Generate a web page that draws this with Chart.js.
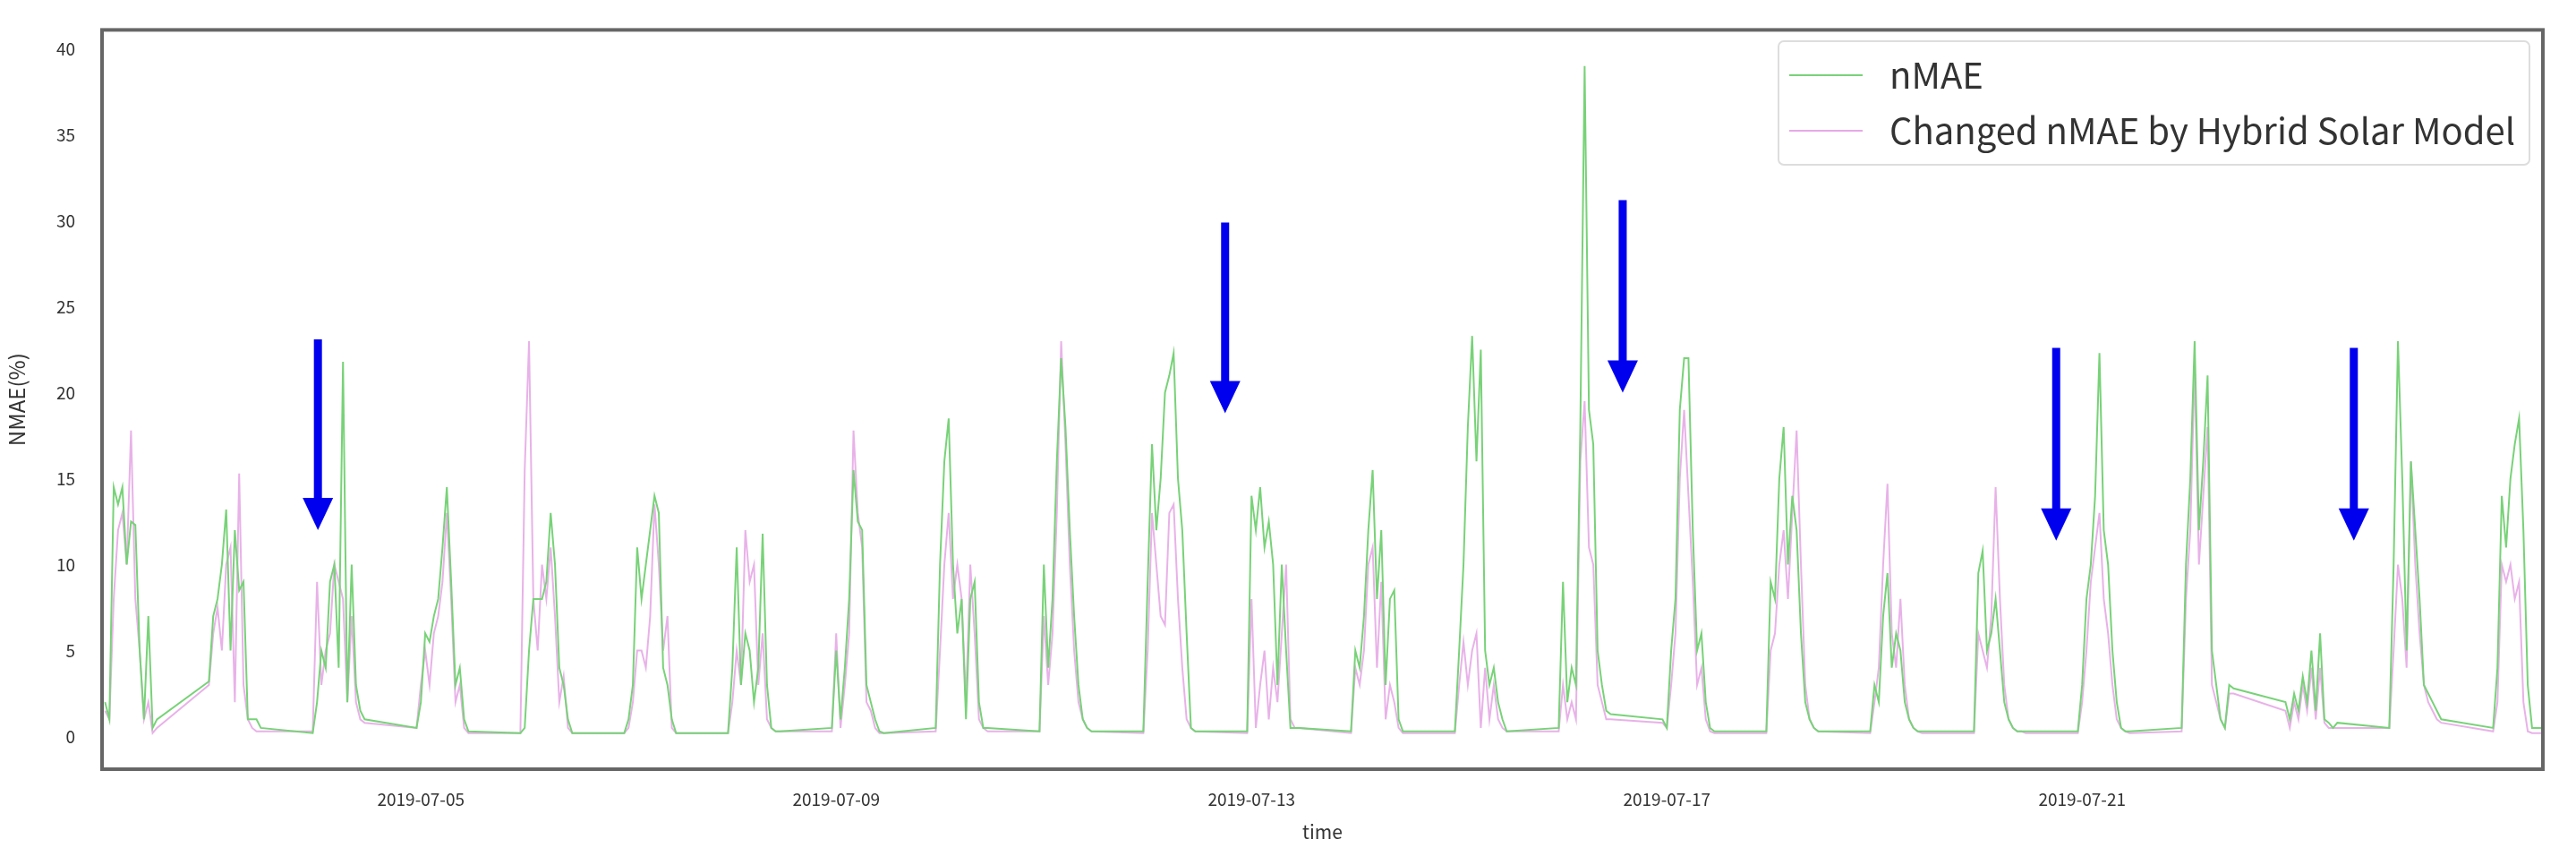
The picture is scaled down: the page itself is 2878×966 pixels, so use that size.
<!DOCTYPE html>
<html><head><meta charset="utf-8">
<script src="https://cdn.jsdelivr.net/npm/chart.js@4.4.1/dist/chart.umd.min.js"></script>
<style>html,body{margin:0;padding:0;background:#fff}#wrap{width:2878px;height:966px}</style>
</head><body><div id="wrap"><canvas id="c"></canvas></div>
<script>
// Dates of each daily block (day of July 2019) and hour offsets within a block
const blockDays = [2,3,4,5,6,7,8,9,10,11,12,13,14,15,16,17,18,19,20,21,22,23,24,25];
const blockHours = [-1,0,1,2,3,4,5,6,7,8,9,10,11];
const nmae = [
 [2,1,14.5,13.5,14.5,10,12.5,12.3,5,1,7,0.5,1],
 [3.2,7,8,10,13.2,5,12,8.5,9,1,1,1,0.5],
 [0.2,2,5,4,9,10,4,21.8,2,10,3,1.5,1],
 [0.5,2,6,5.5,7,8,11,14.5,9,3,4,1,0.3],
 [0.2,0.5,5,8,8,8,9,13,10,4,3,1,0.2],
 [0.2,1,3,11,8,10,12,14,13,4,3,1,0.2],
 [0.2,4,11,3,6,5,2,4,11.8,3,0.5,0.3,0.3],
 [0.5,5,1,4,8,15.5,12.5,12,3,2,1,0.3,0.2],
 [0.5,10,16,18.5,10,6,8,1,8,9,2,0.5,0.5],
 [0.3,10,4,8,16,22,18,12,7,3,1,0.5,0.3],
 [0.3,9,17,12,15,20,21,22.3,15,12,6,0.5,0.3],
 [0.3,14,12,14.5,11,12.5,10,3,10,5,0.5,0.5,0.5],
 [0.3,5,4,7,12,15.5,8,12,3,8,8.5,1,0.3],
 [0.3,5,10,18,23.3,16,22.5,5,3,4,2,1,0.3],
 [0.5,9,2,4,3,18,39,19,17,5,3,1.5,1.3],
 [1,0.5,5,8,19,22,22,12,5,6,2,0.5,0.3],
 [0.3,9,8,15,18,10,14,12,6,2,1,0.5,0.3],
 [0.3,3,2,7,9.5,4,6,5,2,1,0.5,0.3,0.3],
 [0.3,9.5,10.8,5,6,8,5,2,1,0.5,0.3,0.3,0.3],
 [0.3,3,8,10,14,22.3,12,10,5,2,0.5,0.3,0.3],
 [0.5,10,15,23,12,16,21,5,3,1,0.5,3,2.8],
 [2,1,2.5,1.5,3.5,2,5,1.5,6,1,0.8,0.5,0.8],
 [0.5,10,23,15,5,16,12,8,3,2.5,2,1.5,1],
 [0.5,4,14,11,15,17,18.5,12,3,0.5,0.5,0.5,0.5]
];
const changedNmae = [
 [1.5,1,8,12,13,10,17.8,8,5,1,2,0.2,0.5],
 [3,6,7.5,5,10,11,2,15.3,3,1,0.5,0.3,0.3],
 [0.3,9,3,5,6,10,9,8,2,7,2,1,0.8],
 [0.5,3,5,3,6,7,9,13,8,2,3,0.5,0.2],
 [0.2,15.5,23,8,5,10,8,11,7,2,3.5,0.5,0.2],
 [0.2,0.5,2,5,5,4,7,13.5,10,5,7,0.5,0.2],
 [0.2,2,5,3,12,9,10,3,6,1,0.5,0.3,0.3],
 [0.3,6,0.5,3,6,17.8,13,11,2,1.5,0.5,0.2,0.2],
 [0.3,5,10,13,8,10,8,2,10,6,1,0.5,0.3],
 [0.3,7,3,6,13,23,17,10,5,2,1,0.5,0.3],
 [0.2,5,13,10,7,6.5,13,13.5,8,4,1,0.5,0.3],
 [0.2,8,0.5,3,5,1,4,2,6,10,1,0.5,0.5],
 [0.2,4,3,5,10,11,4,9,1,3,2,0.5,0.2],
 [0.2,3,5.5,3,5,6,0.5,4,1,3,1,0.5,0.3],
 [0.3,3,1,2,1,16,19.5,11,10,3,2,1,1],
 [0.8,0.5,3,6,15,19,14,9,3,4,1,0.3,0.2],
 [0.2,5,6,10,12,8,13,17.8,10,3,1,0.5,0.3],
 [0.2,2,4,10,14.7,6,4,8,3,1,0.5,0.3,0.2],
 [0.2,6,5,4,7,14.5,8,3,1,0.5,0.3,0.3,0.2],
 [0.2,2,5,9,11,13,8,6,3,1,0.5,0.3,0.2],
 [0.3,8,12,21.5,10,14,18,3,2,1,0.5,2.5,2.5],
 [1.5,0.5,2,1,3,1.5,4,1,4,0.8,0.5,0.5,0.5],
 [0.5,5,10,8,4,16,10,6,3,2,1.5,1,0.8],
 [0.3,2,10,9,10,8,9,2,0.3,0.2,0.2,0.2,0.2]
];
const xTickDays = [5,9,13,17,21];
// Arrow annotations: [hour since 2019-07-01 00:00, top value, tip value]
const arrowX = [72.2, 281.9, 373.8, 474, 542.8];
const arrowTop = [23.1, 29.9, 31.2, 22.6, 22.6];
const arrowTip = [12.0, 18.8, 20.0, 11.4, 11.4];

const hourOf=(d,h)=>(d-1)*24+h;
function toPoints(arr){const pts=[];blockDays.forEach((d,i)=>blockHours.forEach((h,j)=>pts.push({x:hourOf(d,h),y:arr[i][j]})));return pts;}
const pad=n=>String(n).padStart(2,'0');

const frame={id:'frame',afterDatasetsDraw(ch){const {ctx,chartArea:a,scales:{x,y}}=ch;ctx.save();
 ctx.fillStyle='#0000ee';ctx.strokeStyle='#0000ee';
 arrowX.forEach((v,i)=>{const px=x.getPixelForValue(v),t=y.getPixelForValue(arrowTop[i]),b=y.getPixelForValue(arrowTip[i]);
  ctx.lineWidth=9;ctx.beginPath();ctx.moveTo(px,t);ctx.lineTo(px,b-30);ctx.stroke();
  ctx.beginPath();ctx.moveTo(px-17,b-36);ctx.lineTo(px+17,b-36);ctx.lineTo(px,b);ctx.closePath();ctx.fill();});
 const lx=1987,ly=46,lw=839,lh=138;
 ctx.fillStyle='rgba(255,255,255,0.9)';ctx.strokeStyle='#ddd';ctx.lineWidth=2;
 ctx.beginPath();ctx.roundRect(lx,ly,lw,lh,6);ctx.fill();ctx.stroke();
 ctx.font='40px "Noto Sans CJK KR", "Open Sans", sans-serif';ctx.textBaseline='middle';ctx.fillStyle='#333';
 [['nMAE','rgb(120,210,120)'],['Changed nMAE by Hybrid Solar Model','rgb(230,170,230)']].forEach((e,i)=>{
  const yy=ly+38+i*62;ctx.strokeStyle=e[1];ctx.lineWidth=2;ctx.beginPath();ctx.moveTo(lx+12,yy);ctx.lineTo(lx+94,yy);ctx.stroke();
  ctx.fillText(e[0],lx+124,yy);});
 ctx.strokeStyle='#666';ctx.lineWidth=4;ctx.strokeRect(a.left,a.top,a.right-a.left,a.bottom-a.top);
 ctx.restore();}};

const font={family:'"Noto Sans CJK KR", "Open Sans", sans-serif',size:19};
new Chart(document.getElementById('c'),{
 type:'line',
 data:{datasets:[
  {label:'nMAE',data:toPoints(nmae),borderColor:'rgb(120,210,120)',borderWidth:2,pointRadius:0,tension:0},
  {label:'Changed nMAE by Hybrid Solar Model',data:toPoints(changedNmae),borderColor:'rgba(230,170,230,0.9)',borderWidth:2,pointRadius:0,tension:0}
 ]},
 options:{responsive:true,maintainAspectRatio:false,animation:false,
  layout:{padding:{top:28,right:37,left:0,bottom:24}},
  plugins:{legend:{display:false},tooltip:{enabled:false}},
  scales:{
   x:{type:'linear',min:22.3,max:586.5,grid:{display:false},border:{display:false},
    afterBuildTicks:s=>{s.ticks=xTickDays.map(d=>({value:hourOf(d,0)}));},
    ticks:{font,color:'#333',padding:14,callback:v=>'2019-07-'+pad(v/24+1)},
    title:{display:true,text:'time',font:{...font,size:21},color:'#333',padding:{top:0,bottom:0}},
    afterFit:s=>{s.height=83;}},
   y:{min:-1.9,max:41.1,grid:{display:false},border:{display:false},
    afterBuildTicks:s=>{s.ticks=[0,5,10,15,20,25,30,35,40].map(v=>({value:v}));},
    ticks:{font,color:'#333',padding:22},
    title:{display:true,text:'NMAE(%)',font:{...font,size:24},color:'#333'},
    afterFit:s=>{s.width=114;}}
  }},
 plugins:[frame]
});
</script></body></html>
